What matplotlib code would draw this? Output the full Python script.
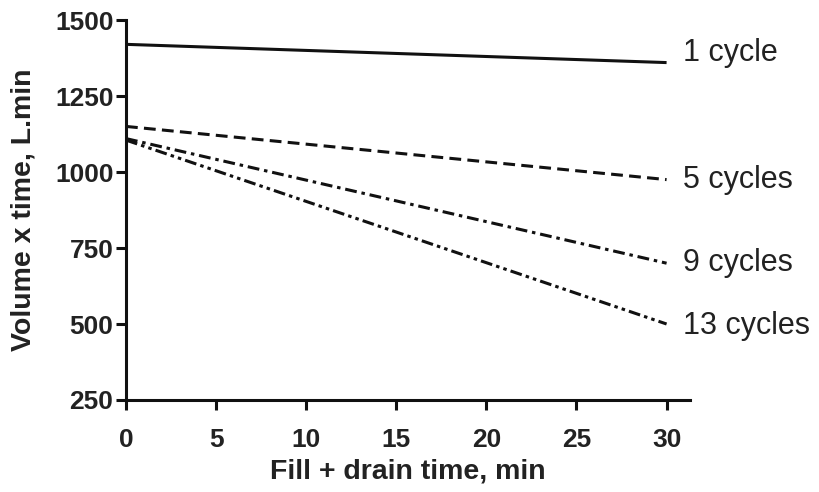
import numpy as np
import matplotlib
matplotlib.use("Agg")
import matplotlib.pyplot as plt

# data
fill_time = [0, 30]
cycles = ["1 cycle", "5 cycles", "9 cycles", "13 cycles"]
volume_time = [
    [1420, 1360],
    [1150, 975],
    [1110, 700],
    [1105, 500],
]
label_y = [1390, 975, 700, 495]
x_ticks = [0, 5, 10, 15, 20, 25, 30]
y_ticks = [250, 500, 750, 1000, 1250, 1500]

plt.rcParams['font.family'] = ['Liberation Sans', 'DejaVu Sans']
plt.rcParams['lines.scale_dashes'] = False

# dash patterns in points (px * 0.72)
dash_styles = [
    (0, ()),
    (0, (8.5, 4.5)),
    (0, (8.5, 3.5, 2.5, 3.5)),
    (0, (8.5, 3, 2.5, 3, 2.5, 3)),
]

fig = plt.figure(figsize=(8.19, 4.92), dpi=100)
ax = fig.add_axes([0.1538, 0.187, 0.6887, 0.7723])

for name, vals, ls, ly in zip(cycles, volume_time, dash_styles, label_y):
    ax.plot(fill_time, vals, color='#111111', lw=2.2, linestyle=ls,
            solid_capstyle='butt', dash_capstyle='butt')
    ax.text(30.9, ly, name, fontsize=22, va='center', ha='left',
            color='#222222', clip_on=False)

ax.set_xlim(0, 31.3)
ax.set_ylim(250, 1500)
ax.set_xticks(x_ticks)
ax.set_yticks(y_ticks)

for side in ['top', 'right']:
    ax.spines[side].set_visible(False)
for side in ['left', 'bottom']:
    ax.spines[side].set_linewidth(2.2)
    ax.spines[side].set_color('#111111')

ax.tick_params(axis='both', direction='out', length=7, width=2.2,
               color='#111111', labelsize=19)
ax.tick_params(axis='x', pad=13)
ax.tick_params(axis='y', pad=2)
for lab in ax.get_xticklabels() + ax.get_yticklabels():
    lab.set_fontweight('bold')
    lab.set_color('#222222')

ax.set_xlabel("Fill + drain time, min", fontsize=20.5, fontweight='bold',
              color='#222222', labelpad=5)
ax.set_ylabel("Volume x time, L.min", fontsize=20.5, fontweight='bold',
              color='#222222', labelpad=13)

fig.savefig("out.png", dpi=100)
